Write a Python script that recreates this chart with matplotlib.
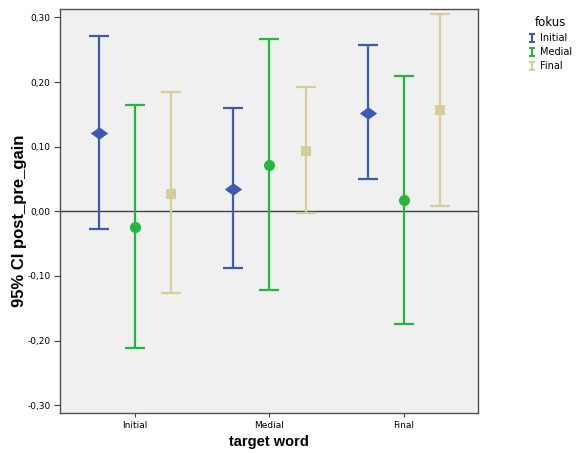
import numpy as np
import matplotlib
matplotlib.use('Agg')
import matplotlib.pyplot as plt
from matplotlib.path import Path
from matplotlib.lines import Line2D
from matplotlib.ticker import FuncFormatter

plt.rcParams['font.family'] = ['Liberation Sans', 'DejaVu Sans']

# target word categories and fokus groups
categories = ['Initial', 'Medial', 'Final']
groups = ['Initial', 'Medial', 'Final']

# means and 95% CI limits, rows = fokus group, columns = target word
means = [[0.121, 0.035, 0.152],
         [-0.024, 0.072, 0.017],
         [0.027, 0.094, 0.156]]
upper = [[0.272, 0.160, 0.257],
         [0.165, 0.267, 0.209],
         [0.185, 0.193, 0.306]]
lower = [[-0.028, -0.088, 0.050],
         [-0.211, -0.121, -0.174],
         [-0.127, -0.002, 0.009]]

colors = ['#3c5ab0', '#23b83c', '#d5ce9a']
wide_diamond = Path([(-1, 0), (0, 0.72), (1, 0), (0, -0.72), (-1, 0)],
                    [Path.MOVETO, Path.LINETO, Path.LINETO, Path.LINETO, Path.CLOSEPOLY])
markers = [wide_diamond, 'o', 's']
msizes = [12.5, 8.0, 7.7]
offset = 0.268

small_font = 'DejaVu Sans'

fig = plt.figure(figsize=(5.79, 4.53), dpi=100)
ax = fig.add_axes([60 / 579, 1 - 413 / 453, 418 / 579, 404 / 453])
ax.set_facecolor('#f0f0f0')

x = np.arange(len(categories))
for i, g in enumerate(groups):
    m = np.array(means[i])
    lo = m - np.array(lower[i])
    hi = np.array(upper[i]) - m
    ax.errorbar(x + (i - 1) * offset, m, yerr=[lo, hi], fmt='none',
                ecolor=colors[i], elinewidth=1.6, capsize=7.5, capthick=1.6, zorder=3)
    ax.plot(x + (i - 1) * offset, m, linestyle='none', marker=markers[i],
            markersize=msizes[i], color=colors[i], markeredgewidth=0, zorder=4)

ax.axhline(0, color='#404040', linewidth=1.0, zorder=2)

ax.set_xlim(-0.557, 2.55)
ax.set_ylim(-0.312, 0.313)
ax.set_xticks(x)
ax.set_xticklabels(categories, fontfamily=small_font)
ax.set_yticks(np.arange(-0.3, 0.31, 0.1))
ax.yaxis.set_major_formatter(FuncFormatter(lambda v, p: '{:.2f}'.format(v).replace('.', ',').replace('-0,00', '0,00')))
for lab in ax.get_yticklabels():
    lab.set_fontfamily(small_font)
ax.tick_params(axis='both', labelsize=6.5, width=0.8, color='#404040', pad=2.5)
ax.tick_params(axis='y', length=4.3)
ax.tick_params(axis='x', length=3)

for s in ax.spines.values():
    s.set_color('#505050')
    s.set_linewidth(1.0)

ax.set_xlabel('target word', fontsize=10.5, fontweight='bold', labelpad=4)
ax.set_ylabel('95% CI post_pre_gain', fontsize=12, fontweight='bold', va='center')
ax.yaxis.set_label_coords(-0.098, 0.476)

# legend with I-beam symbols
ibeam = Path([(-0.7, 1), (0.7, 1), (0, 1), (0, -1), (-0.7, -1), (0.7, -1)],
             [Path.MOVETO, Path.LINETO, Path.MOVETO, Path.LINETO, Path.MOVETO, Path.LINETO])
handles = [Line2D([], [], linestyle='none', marker=ibeam, markersize=6, markerfacecolor='none',
                  markeredgecolor=c, markeredgewidth=1.5) for c in colors]
leg = fig.legend(handles, groups, title='fokus', loc='upper left', bbox_to_anchor=(529 / 579, 1 - 16 / 453),
                 frameon=False, prop={'family': small_font, 'size': 7},
                 handlelength=0.6, handletextpad=0.5, labelspacing=0.42,
                 borderpad=0, borderaxespad=0)
leg.get_title().set_fontfamily(small_font)
leg.get_title().set_fontsize(8.5)

fig.savefig('out.png', dpi=100)
